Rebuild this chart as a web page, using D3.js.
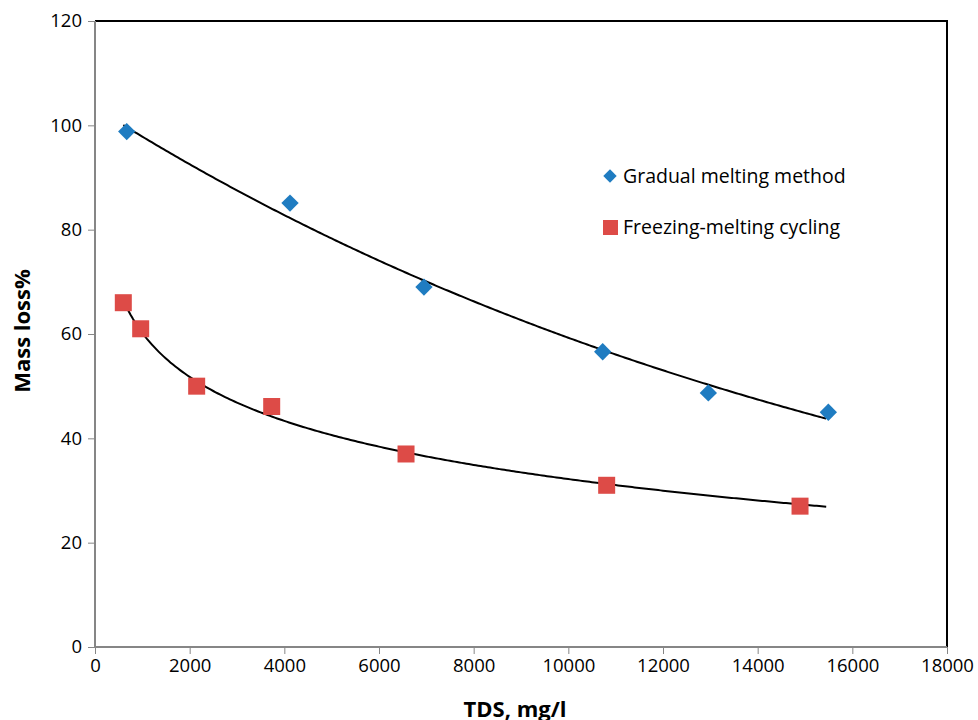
<!DOCTYPE html>
<html>
<head>
<meta charset="utf-8">
<script src="https://cdn.jsdelivr.net/npm/d3@7"></script>
<style>
  body { margin: 0; background: #fff; }
  svg text { font-family: "Open Sans", "Liberation Sans", sans-serif; fill: #000; }
</style>
</head>
<body>
<div id="chart"></div>
<script>
// Gradual melting method (blue diamonds)
const gradualTDS = [670, 4120, 6950, 10726, 12958, 15493];
const gradualLoss = [98.8, 85.1, 69.0, 56.6, 48.7, 45.0];
// Freezing-melting cycling (red squares)
const cyclingTDS = [598, 965, 2148, 3733, 6571, 10810, 14895];
const cyclingLoss = [66.0, 61.0, 50.0, 46.1, 37.0, 31.0, 27.0];

const xTicks = [0, 2000, 4000, 6000, 8000, 10000, 12000, 14000, 16000, 18000];
const yTicks = [0, 20, 40, 60, 80, 100, 120];
const seriesNames = ["Gradual melting method", "Freezing-melting cycling"];

const width = 978, height = 720;
const margin = {top: 21, right: 31, bottom: 73, left: 95};
const w = width - margin.left - margin.right, h = height - margin.top - margin.bottom;

const svg = d3.select("#chart").append("svg")
  .attr("width", width).attr("height", height);
const g = svg.append("g").attr("transform", `translate(${margin.left},${margin.top})`);

const x = d3.scaleLinear().domain([0, 18000]).range([0, w]);
const y = d3.scaleLinear().domain([0, 120]).range([h, 0]);

// top and right frame
g.append("path")
  .attr("d", `M0,0H${w}V${h}`)
  .attr("fill", "none").attr("stroke", "#000").attr("stroke-width", 2);

// x axis
const xAxis = g.append("g")
  .attr("transform", `translate(0,${h})`)
  .call(d3.axisBottom(x).tickValues(xTicks).tickFormat(d3.format("d")).tickSize(7).tickPadding(5));
xAxis.select(".domain").attr("stroke", "#868686").attr("stroke-width", 2).attr("d", `M0,0H${w}`);
xAxis.selectAll(".tick line").attr("stroke", "#868686");
xAxis.selectAll(".tick text").attr("font-size", 18.5).attr("fill", "#000");

// y axis
const yAxis = g.append("g")
  .call(d3.axisLeft(y).tickValues(yTicks).tickSize(7).tickPadding(6));
yAxis.select(".domain").attr("stroke", "#868686").attr("stroke-width", 2).attr("d", `M0,${h}V0`);
yAxis.selectAll(".tick line").attr("stroke", "#868686");
yAxis.selectAll(".tick text").attr("font-size", 18.5).attr("fill", "#000");

// axis titles
svg.append("text")
  .attr("x", margin.left + x(9000) - 6).attr("y", 717)
  .attr("text-anchor", "middle").attr("font-size", 22).attr("font-weight", "bold")
  .text("TDS, mg/l");
svg.append("text")
  .attr("transform", `translate(30,${margin.top + y(60) - 3}) rotate(-90)`)
  .attr("text-anchor", "middle").attr("font-size", 22).attr("font-weight", "bold")
  .text("Mass loss%");

// trendlines: exponential for gradual, logarithmic for cycling (least squares)
function fitExp(xs, ys) {
  const ly = ys.map(Math.log);
  const mx = d3.mean(xs), my = d3.mean(ly);
  const b = d3.sum(xs, (v, i) => (v - mx) * (ly[i] - my)) / d3.sum(xs, v => (v - mx) ** 2);
  const a = Math.exp(my - b * mx);
  return v => a * Math.exp(b * v);
}
function fitLog(xs, ys) {
  const lx = xs.map(Math.log);
  const mx = d3.mean(lx), my = d3.mean(ys);
  const b = d3.sum(lx, (v, i) => (v - mx) * (ys[i] - my)) / d3.sum(lx, v => (v - mx) ** 2);
  const a = my - b * mx;
  return v => a + b * Math.log(v);
}
const allX = gradualTDS.concat(cyclingTDS);
const trendX = d3.range(d3.min(allX), d3.max(allX) + 1, 50);
const line = d3.line().x(d => x(d[0])).y(d => y(d[1]));
[fitExp(gradualTDS, gradualLoss), fitLog(cyclingTDS, cyclingLoss)].forEach(f => {
  g.append("path")
    .datum(trendX.map(v => [v, f(v)]))
    .attr("fill", "none").attr("stroke", "#000").attr("stroke-width", 2)
    .attr("d", line);
});

// markers
const blue = "#1F7CC1", red = "#DD4B47";
g.selectAll(".diamond").data(gradualTDS).join("path")
  .attr("class", "diamond")
  .attr("d", d3.symbol(d3.symbolSquare, 150))
  .attr("transform", (d, i) => `translate(${x(d)},${y(gradualLoss[i])}) rotate(45)`)
  .attr("fill", blue);
g.selectAll(".square").data(cyclingTDS).join("rect")
  .attr("class", "square")
  .attr("x", d => x(d) - 8.5).attr("y", (d, i) => y(cyclingLoss[i]) - 8.5)
  .attr("width", 17).attr("height", 17)
  .attr("fill", red);

// legend
const legend = svg.append("g").attr("transform", "translate(610,176)");
legend.append("path")
  .attr("d", d3.symbol(d3.symbolSquare, 90))
  .attr("transform", "rotate(45)").attr("fill", blue);
legend.append("text").attr("x", 13).attr("y", 7).attr("font-size", 19.5).text(seriesNames[0]);
legend.append("rect").attr("x", -7).attr("y", 44).attr("width", 15).attr("height", 15).attr("fill", red);
legend.append("text").attr("x", 13).attr("y", 58).attr("font-size", 19.5).text(seriesNames[1]);
</script>
</body>
</html>
